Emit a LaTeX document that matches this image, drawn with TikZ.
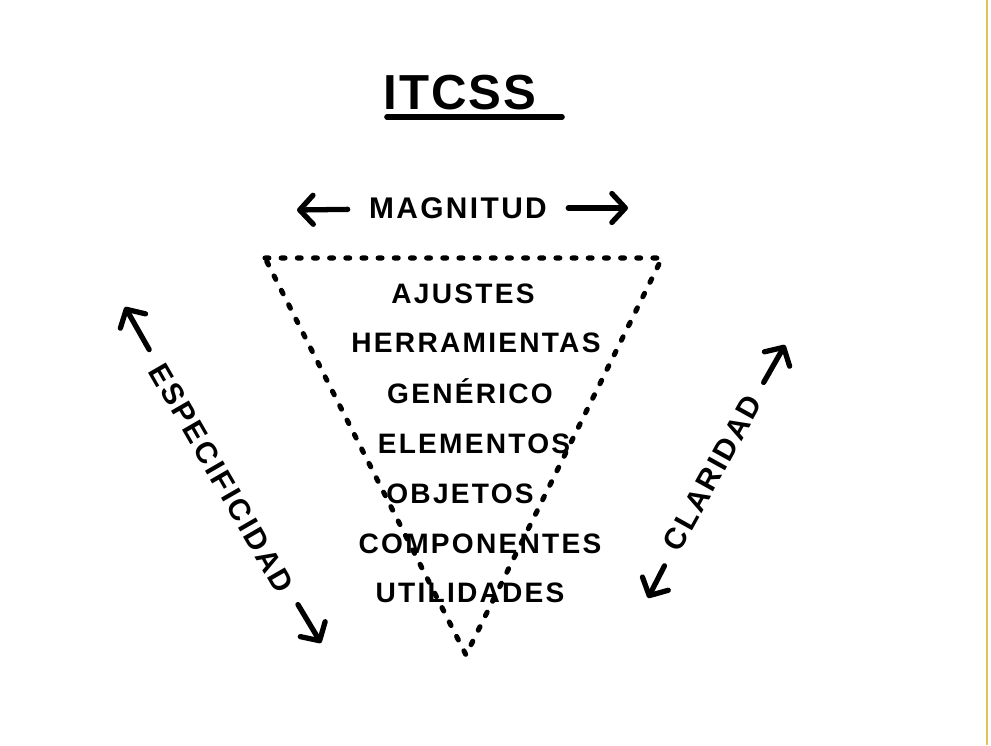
\documentclass[tikz,border=0pt]{standalone}
\usepackage{fontspec}
\setmainfont{Liberation Sans}
\usepackage{tikz}
\usetikzlibrary{positioning, arrows.meta, calc}
\usepackage{xcolor}
\definecolor{pageedge}{RGB}{226,196,84}
\tikzset{
    heading/.style={font=\fontsize{28}{28}\selectfont\bfseries\addfontfeatures{LetterSpace=4}, inner sep=0pt},
    layer/.style={font=\fontsize{16}{16}\selectfont\bfseries\addfontfeatures{LetterSpace=8},
        inner sep=0pt, text height=11.5pt, text depth=0pt},
    axis/.style={font=\fontsize{17}{17}\selectfont\bfseries\addfontfeatures{LetterSpace=8},
        inner sep=0pt, text height=12.2pt, text depth=0pt},
    pointer/.style={->, line width=3pt, line cap=round},
    dotline/.style={line width=2.9pt, line cap=round, dash pattern=on 2.2pt off 7pt}
}

\begin{document}
\begin{tikzpicture}[x=0.02cm, y=0.02cm, >={Straight Barb[length=2.7mm, width=5.8mm, round]}]
  \useasboundingbox (0,0) rectangle (991,745);
  \draw[pageedge, line width=1.6pt] (987,0) -- (987,745);

  \node[heading] (itcss) at (460,652) {ITCSS};
  \coordinate (ul1) at (387,628);
  \coordinate (ul2) at (562,628);
  \draw[line width=3.2pt, line cap=round] (ul1) -- (ul2);

  \node[axis] (mag) at (458,537) {MAGNITUD};
  \coordinate (magL) at (297,535);
  \coordinate (magR) at (628,537);
  \draw[pointer, shorten <=12pt] (mag) -- (magL);
  \draw[pointer, shorten <=12pt] (mag) -- (magR);

  \coordinate (tl) at (265,487);
  \coordinate (tr) at (662,487);
  \coordinate (bt) at (466,90);
  \draw[dotline] (tl) -- (tr) -- (bt) -- cycle;

  \node[layer] (ajustes)      at (463,452) {AJUSTES};
  \node[layer] (herramientas) at (476,403) {HERRAMIENTAS};
  \node[layer] (generico)     at (470,352) {GENÉRICO};
  \node[layer] (elementos)    at (474,302) {ELEMENTOS};
  \node[layer] (objetos)      at (460,252) {OBJETOS};
  \node[layer] (componentes)  at (480,202) {COMPONENTES};
  \node[layer] (utilidades)   at (470,153) {UTILIDADES};

  \node[axis, rotate=-60] (espec) at (222,267) {ESPECIFICIDAD};
  \coordinate (especUp) at (125,438);
  \coordinate (especDn) at (321,102);
  \draw[pointer, shorten <=10pt] (espec) -- (especUp);
  \draw[pointer, shorten <=10pt] (espec) -- (especDn);

  \node[axis, rotate=61] (clar) at (712,272) {CLARIDAD};
  \coordinate (clarUp) at (785,400);
  \coordinate (clarDn) at (648,147);
  \draw[pointer, shorten <=10pt] (clar) -- (clarUp);
  \draw[pointer, shorten <=10pt] (clar) -- (clarDn);
\end{tikzpicture}
\end{document}
